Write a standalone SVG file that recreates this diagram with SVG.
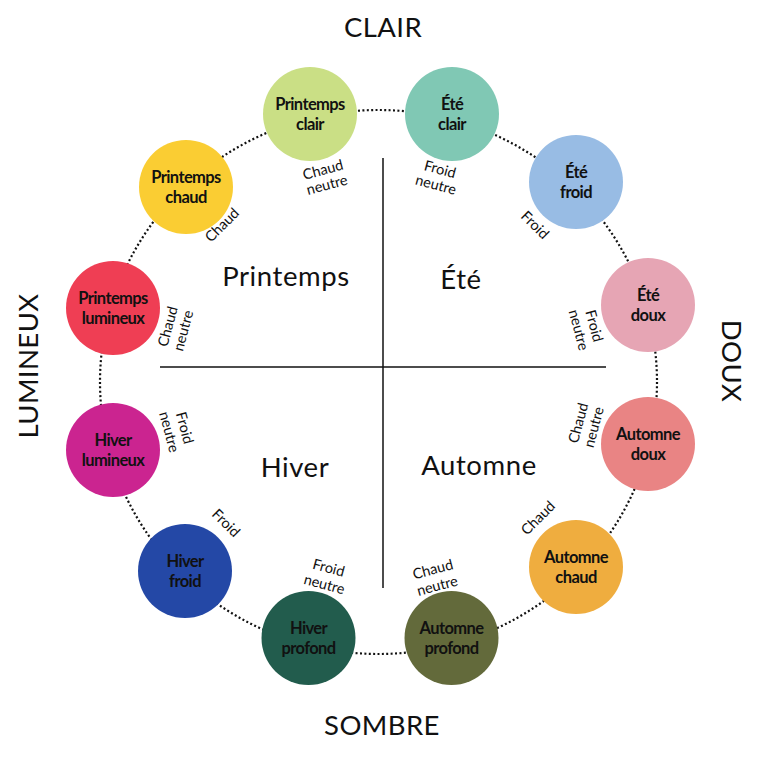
<svg xmlns="http://www.w3.org/2000/svg" width="758" height="761" viewBox="0 0 758 761">
<style>
.node text{font-family:Lato,"Open Sans","DejaVu Sans",sans-serif;font-weight:bold;font-size:16.5px;fill:#111;text-anchor:middle;letter-spacing:-0.6px}
.lbl{font-family:Lato,"Open Sans","DejaVu Sans",sans-serif;font-size:14.5px;fill:#111;text-anchor:middle}
.quad{font-family:Lato,"Open Sans","DejaVu Sans",sans-serif;font-size:27.5px;fill:#111;text-anchor:middle;letter-spacing:0.6px}
.axis{font-family:Lato,"Open Sans","DejaVu Sans",sans-serif;font-size:27.5px;fill:#111;text-anchor:middle;letter-spacing:0.4px}
.ring{fill:none;stroke:#111;stroke-width:2.2;stroke-dasharray:2 2.4}
.cross{stroke:#111;stroke-width:1.5}
</style>
<rect width="758" height="761" fill="#fff"/>
<g id="connectors">
<ellipse class="ring" cx="378.5" cy="382" rx="278.5" ry="272"/>
<line class="cross" x1="383" y1="158" x2="383" y2="588"/>
<line class="cross" x1="160" y1="367" x2="606" y2="367"/>
</g>
<g id="axis-labels">
<text class="axis" x="383" y="37">CLAIR</text>
<text class="axis" x="382" y="735">SOMBRE</text>
<text class="axis" transform="translate(38,366) rotate(-90)" letter-spacing="1.2">LUMINEUX</text>
<text class="axis" transform="translate(722,361) rotate(90)">DOUX</text>
</g>
<g id="quadrant-labels">
<text class="quad" x="286" y="286">Printemps</text>
<text class="quad" x="461" y="289">Été</text>
<text class="quad" x="295" y="477">Hiver</text>
<text class="quad" x="479" y="475">Automne</text>
</g>
<g id="node-printemps-clair" class="node"><circle cx="310" cy="114" r="47" fill="#CADF85"/><text x="310" y="110">Printemps</text><text x="310" y="130">clair</text></g>
<g id="node-ete-clair" class="node"><circle cx="452" cy="114" r="47" fill="#80C8B4"/><text x="452" y="110">Été</text><text x="452" y="130">clair</text></g>
<g id="node-ete-froid" class="node"><circle cx="576" cy="182" r="47" fill="#98BCE4"/><text x="576" y="178">Été</text><text x="576" y="198">froid</text></g>
<g id="node-ete-doux" class="node"><circle cx="648" cy="305" r="47" fill="#E6A5B4"/><text x="648" y="301">Été</text><text x="648" y="321">doux</text></g>
<g id="node-automne-doux" class="node"><circle cx="648" cy="444" r="47" fill="#E98484"/><text x="648" y="440">Automne</text><text x="648" y="460">doux</text></g>
<g id="node-automne-chaud" class="node"><circle cx="576" cy="567" r="47" fill="#EFAD3F"/><text x="576" y="563">Automne</text><text x="576" y="583">chaud</text></g>
<g id="node-automne-profond" class="node"><circle cx="451.5" cy="638" r="47" fill="#636A3B"/><text x="451.5" y="634">Automne</text><text x="451.5" y="654">profond</text></g>
<g id="node-hiver-profond" class="node"><circle cx="308.5" cy="638" r="47" fill="#225C4D"/><text x="308.5" y="634">Hiver</text><text x="308.5" y="654">profond</text></g>
<g id="node-hiver-froid" class="node"><circle cx="185" cy="571" r="47" fill="#2448A6"/><text x="185" y="567">Hiver</text><text x="185" y="587">froid</text></g>
<g id="node-hiver-lumineux" class="node"><circle cx="113" cy="450" r="47" fill="#CB2490"/><text x="113" y="446">Hiver</text><text x="113" y="466">lumineux</text></g>
<g id="node-printemps-lumineux" class="node"><circle cx="113" cy="308" r="47" fill="#EF3E54"/><text x="113" y="304">Printemps</text><text x="113" y="324">lumineux</text></g>
<g id="node-printemps-chaud" class="node"><circle cx="186" cy="187" r="47" fill="#FACD33"/><text x="186" y="183">Printemps</text><text x="186" y="203">chaud</text></g>
<g id="small-labels">
<text class="lbl" transform="translate(325,177.5) rotate(-15)"><tspan x="0" y="-3">Chaud</tspan><tspan x="0" y="12.5">neutre</tspan></text>
<text class="lbl" transform="translate(438,177) rotate(15)"><tspan x="0" y="-3">Froid</tspan><tspan x="0" y="13">neutre</tspan></text>
<text class="lbl" transform="translate(222,225) rotate(-45)" y="5">Chaud</text>
<text class="lbl" transform="translate(535,225) rotate(45)" y="5">Froid</text>
<text class="lbl" transform="translate(175.5,328.5) rotate(-75)"><tspan x="0" y="-3">Chaud</tspan><tspan x="0" y="13">neutre</tspan></text>
<text class="lbl" transform="translate(586.5,328) rotate(75)"><tspan x="0" y="-3">Froid</tspan><tspan x="0" y="13">neutre</tspan></text>
<text class="lbl" transform="translate(177,430) rotate(75)"><tspan x="0" y="-3">Froid</tspan><tspan x="0" y="13">neutre</tspan></text>
<text class="lbl" transform="translate(586,425) rotate(-75)"><tspan x="0" y="-3">Chaud</tspan><tspan x="0" y="13">neutre</tspan></text>
<text class="lbl" transform="translate(226,523) rotate(45)" y="5">Froid</text>
<text class="lbl" transform="translate(538,518) rotate(-45)" y="5">Chaud</text>
<text class="lbl" transform="translate(326.5,576) rotate(15)"><tspan x="0" y="-3.5">Froid</tspan><tspan x="0" y="13.5">neutre</tspan></text>
<text class="lbl" transform="translate(435,577.5) rotate(-15)"><tspan x="0" y="-3.5">Chaud</tspan><tspan x="0" y="13.5">neutre</tspan></text>
</g>
</svg>
